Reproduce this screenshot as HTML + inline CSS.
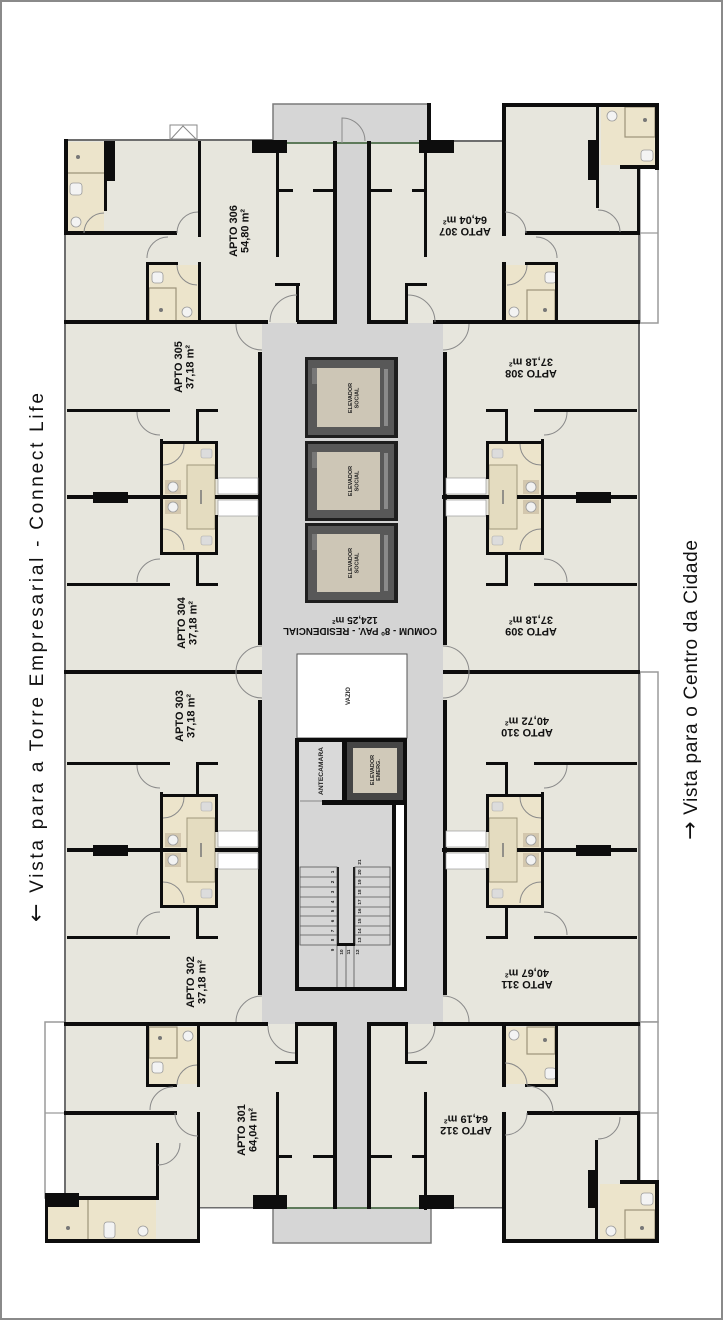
<!DOCTYPE html>
<html><head><meta charset="utf-8">
<style>
html,body{margin:0;padding:0;background:#fff;}
svg{display:block;}
text{font-family:"Liberation Sans",Arial,sans-serif;}
</style></head><body>
<svg width="723" height="1320" viewBox="0 0 723 1320" xmlns="http://www.w3.org/2000/svg">
<rect x="1" y="1" width="721" height="1318" fill="#fff" stroke="#8a8a8a" stroke-width="2"/>

<!-- balconies -->
<g fill="#fff" stroke="#9a9a9a" stroke-width="1.5">
<rect x="640" y="168" width="18" height="155"/>
<rect x="640" y="672" width="18" height="350"/>
<rect x="640" y="1022" width="18" height="160"/>
<rect x="45" y="1022" width="20" height="176"/>
</g>
<g stroke="#9a9a9a" stroke-width="1.2">
<line x1="640" y1="233" x2="658" y2="233"/>
<line x1="640" y1="1113" x2="658" y2="1113"/>
<line x1="45" y1="1113" x2="65" y2="1113"/>
</g>

<!-- floors -->
<g fill="#e7e6dd">
<rect x="65" y="141" width="270" height="182"/>
<rect x="369" y="141" width="271" height="182"/>
<rect x="503" y="105" width="155" height="63"/>
<rect x="65" y="323" width="197" height="699"/>
<rect x="443" y="323" width="195" height="699"/>
<rect x="65" y="1024" width="270" height="184"/>
<rect x="65" y="1198" width="135" height="45"/>
<rect x="369" y="1024" width="271" height="184"/>
<rect x="503" y="1182" width="155" height="60"/>
</g>
<!-- corridor -->
<g fill="#d4d4d4">
<rect x="262" y="323" width="181" height="701"/>
<rect x="337" y="141" width="30" height="183"/>
<rect x="337" y="1022" width="30" height="187"/>
</g>
<rect x="273" y="104" width="157" height="39" fill="#d6d6d6" stroke="#7a7a7a" stroke-width="1.5"/>
<rect x="273" y="1208" width="158" height="35" fill="#d6d6d6" stroke="#7a7a7a" stroke-width="1.5"/>

<!-- bathrooms fill -->
<g fill="#ece4cb">
<rect x="67" y="142" width="37" height="90"/>
<rect x="149" y="265" width="49" height="57"/>
<rect x="601" y="107" width="54" height="58"/>
<rect x="505" y="265" width="50" height="57"/>
<rect x="149" y="1027" width="48" height="57"/>
<rect x="48" y="1200" width="108" height="39"/>
<rect x="506" y="1027" width="49" height="57"/>
<rect x="600" y="1184" width="55" height="55"/>
</g>
<g fill="none" stroke="#9c937a" stroke-width="1.2">
<line x1="67" y1="173" x2="104" y2="173"/>
<rect x="149" y="288" width="27" height="34"/>
<rect x="625" y="107" width="30" height="30"/>
<rect x="527" y="290" width="28" height="32"/>
<rect x="149" y="1027" width="28" height="31"/>
<line x1="88" y1="1200" x2="88" y2="1239"/>
<rect x="527" y="1027" width="28" height="27"/>
<rect x="625" y="1210" width="30" height="29"/>
</g>
<!-- fixtures -->
<g fill="#f3f3f3" stroke="#9a9a9a" stroke-width=".8">
<circle cx="76" cy="222" r="5"/>
<circle cx="187" cy="312" r="5"/>
<circle cx="612" cy="116" r="5"/>
<circle cx="514" cy="312" r="5"/>
<circle cx="188" cy="1036" r="5"/>
<circle cx="143" cy="1231" r="5"/>
<circle cx="514" cy="1035" r="5"/>
<circle cx="611" cy="1231" r="5"/>
<rect x="70" y="183" width="12" height="12" rx="3"/>
<rect x="152" y="272" width="11" height="11" rx="3"/>
<rect x="641" y="150" width="12" height="11" rx="3"/>
<rect x="545" y="272" width="11" height="11" rx="3"/>
<rect x="152" y="1062" width="11" height="11" rx="3"/>
<rect x="104" y="1222" width="11" height="16" rx="3"/>
<rect x="545" y="1068" width="11" height="11" rx="3"/>
<rect x="641" y="1193" width="12" height="12" rx="3"/>
</g>
<g fill="#777">
<circle cx="78" cy="157" r="2"/><circle cx="161" cy="310" r="2"/><circle cx="645" cy="120" r="2"/>
<circle cx="545" cy="310" r="2"/><circle cx="160" cy="1038" r="2"/><circle cx="68" cy="1228" r="2"/>
<circle cx="545" cy="1040" r="2"/><circle cx="642" cy="1228" r="2"/>
</g>

<!-- outer thin lines -->
<g fill="#6e6e6e">
<rect x="64" y="139" width="209" height="2"/>
<rect x="64" y="233" width="2" height="965"/>
<rect x="638" y="233" width="2" height="880"/>
<rect x="454" y="140" width="48" height="2"/>
<rect x="200" y="1207" width="53" height="1.5"/>
<rect x="432" y="1207" width="70" height="1.5"/>
</g>
<g fill="#5e7a5a">
<rect x="287" y="142" width="132" height="2"/>
<rect x="287" y="1207" width="132" height="2"/>
</g>
<!-- window symbol top -->
<g fill="#fff" stroke="#888" stroke-width="1">
<rect x="170" y="125" width="27" height="14"/>
<path d="M171 139 L183 126 L196 139" fill="none"/>
</g>

<!-- ===== WALLS ===== -->
<g fill="#0d0d0d">
<rect x="64" y="139" width="4" height="96"/>
<rect x="64" y="231" width="113" height="4"/>
<rect x="104" y="141" width="11" height="40"/>
<rect x="104" y="141" width="3" height="70"/>
<rect x="198" y="141" width="3" height="96"/>
<rect x="198" y="262" width="3" height="60"/>
<rect x="146" y="262" width="32" height="3"/>
<rect x="146" y="262" width="3" height="60"/>
<rect x="252" y="140" width="35" height="13"/>
<rect x="276" y="145" width="3" height="112"/>
<rect x="277" y="189" width="16" height="3"/>
<rect x="313" y="189" width="22" height="3"/>
<rect x="275" y="283" width="25" height="3"/>
<rect x="296" y="283" width="3" height="39"/>
<rect x="333" y="141" width="4" height="183"/>
<rect x="427" y="103" width="4" height="40"/>
<rect x="367" y="141" width="4" height="183"/>
<rect x="419" y="140" width="35" height="13"/>
<rect x="424" y="150" width="3" height="107"/>
<rect x="369" y="189" width="23" height="3"/>
<rect x="412" y="189" width="15" height="3"/>
<rect x="405" y="283" width="22" height="3"/>
<rect x="405" y="283" width="3" height="39"/>
<rect x="502" y="103" width="4" height="133"/>
<rect x="502" y="262" width="4" height="61"/>
<rect x="502" y="103" width="157" height="4"/>
<rect x="655" y="103" width="4" height="67"/>
<rect x="620" y="165" width="39" height="4"/>
<rect x="596" y="107" width="3" height="101"/>
<rect x="588" y="140" width="10" height="40"/>
<rect x="637" y="165" width="3" height="70"/>
<rect x="525" y="231" width="115" height="4"/>
<rect x="525" y="262" width="33" height="3"/>
<rect x="555" y="262" width="3" height="60"/>
<rect x="64" y="320" width="204" height="4"/>
<rect x="297" y="320" width="40" height="4"/>
<rect x="367" y="320" width="41" height="4"/>
<rect x="433" y="320" width="207" height="4"/>
<rect x="64" y="670" width="198" height="4"/>
<rect x="443" y="670" width="197" height="4"/>
<rect x="64" y="1022" width="204" height="4"/>
<rect x="295" y="1022" width="42" height="4"/>
<rect x="367" y="1022" width="41" height="4"/>
<rect x="433" y="1022" width="207" height="4"/>
<rect x="258" y="352" width="4" height="293"/>
<rect x="258" y="700" width="4" height="295"/>
<rect x="443" y="352" width="4" height="293"/>
<rect x="443" y="700" width="4" height="295"/>
<rect x="146" y="1024" width="3" height="63"/>
<rect x="146" y="1084" width="31" height="3"/>
<rect x="197" y="1024" width="3" height="63"/>
<rect x="197" y="1112" width="3" height="131"/>
<rect x="64" y="1111" width="113" height="4"/>
<rect x="156" y="1143" width="3" height="57"/>
<rect x="45" y="1196" width="114" height="4"/>
<rect x="45" y="1193" width="34" height="14"/>
<rect x="45" y="1196" width="3" height="47"/>
<rect x="45" y="1239" width="155" height="4"/>
<rect x="276" y="1092" width="3" height="103"/>
<rect x="277" y="1155" width="15" height="3"/>
<rect x="313" y="1155" width="22" height="3"/>
<rect x="295" y="1024" width="3" height="40"/>
<rect x="275" y="1061" width="23" height="3"/>
<rect x="253" y="1195" width="34" height="14"/>
<rect x="333" y="1024" width="4" height="185"/>
<rect x="367" y="1024" width="4" height="185"/>
<rect x="405" y="1024" width="3" height="40"/>
<rect x="405" y="1061" width="22" height="3"/>
<rect x="424" y="1092" width="3" height="118"/>
<rect x="369" y="1155" width="23" height="3"/>
<rect x="412" y="1155" width="15" height="3"/>
<rect x="419" y="1195" width="35" height="14"/>
<rect x="502" y="1024" width="4" height="63"/>
<rect x="502" y="1112" width="4" height="131"/>
<rect x="525" y="1084" width="33" height="3"/>
<rect x="555" y="1024" width="3" height="63"/>
<rect x="527" y="1111" width="113" height="4"/>
<rect x="595" y="1140" width="3" height="100"/>
<rect x="588" y="1170" width="10" height="38"/>
<rect x="637" y="1113" width="3" height="70"/>
<rect x="620" y="1180" width="39" height="4"/>
<rect x="655" y="1180" width="4" height="63"/>
<rect x="502" y="1239" width="157" height="4"/>
</g>

<!-- ===== bath cores ===== -->
<g transform="translate(0,497)">
<rect x="163" y="-53" width="52" height="108" fill="#ece4cb"/>
<rect x="187" y="-32" width="28" height="64" fill="#e4dcc0" stroke="#a0977c" stroke-width="1"/>
<rect x="165" y="-17" width="16" height="14" fill="#d3c7ae"/>
<rect x="165" y="3" width="16" height="14" fill="#d3c7ae"/>
<circle cx="173" cy="-10" r="5" fill="#f2f2f2" stroke="#9a9a9a" stroke-width=".8"/>
<circle cx="173" cy="10" r="5" fill="#f2f2f2" stroke="#9a9a9a" stroke-width=".8"/>
<rect x="201" y="-48" width="11" height="9" rx="2" fill="#dcdcdc" stroke="#aaa" stroke-width=".6"/>
<rect x="201" y="39" width="11" height="9" rx="2" fill="#dcdcdc" stroke="#aaa" stroke-width=".6"/>
<path d="M201 -7 L201 7" stroke="#777" stroke-width="1.5"/>
<rect x="218" y="-19" width="40" height="16" fill="#fff" stroke="#9a9a9a" stroke-width=".7"/>
<rect x="218" y="3" width="40" height="16" fill="#fff" stroke="#9a9a9a" stroke-width=".7"/>
<g fill="#0d0d0d">
<rect x="67" y="-2" width="120" height="4"/>
<rect x="215" y="-2" width="47" height="4"/>
<rect x="93" y="-5" width="35" height="11"/>
<rect x="67" y="-88" width="103" height="3"/>
<rect x="196" y="-88" width="22" height="3"/>
<rect x="67" y="86" width="103" height="3"/>
<rect x="196" y="86" width="22" height="3"/>
<rect x="196" y="-88" width="3" height="33"/>
<rect x="196" y="56" width="3" height="33"/>
<rect x="160" y="-58" width="3" height="116"/>
<rect x="160" y="-56" width="58" height="3"/>
<rect x="160" y="55" width="58" height="3"/>
<rect x="215" y="-56" width="3" height="38"/>
<rect x="215" y="18" width="3" height="40"/>
</g>
<g fill="none" stroke="#8a8a8a" stroke-width="1">
<path d="M137 -85 A23 23 0 0 0 160 -62"/>
<path d="M137 85 A23 23 0 0 1 160 62"/>
<path d="M184 -53 A21 21 0 0 1 163 -32"/>
<path d="M184 53 A21 21 0 0 0 163 32"/>
</g>
</g>
<g transform="translate(0,850)">
<rect x="163" y="-53" width="52" height="108" fill="#ece4cb"/>
<rect x="187" y="-32" width="28" height="64" fill="#e4dcc0" stroke="#a0977c" stroke-width="1"/>
<rect x="165" y="-17" width="16" height="14" fill="#d3c7ae"/>
<rect x="165" y="3" width="16" height="14" fill="#d3c7ae"/>
<circle cx="173" cy="-10" r="5" fill="#f2f2f2" stroke="#9a9a9a" stroke-width=".8"/>
<circle cx="173" cy="10" r="5" fill="#f2f2f2" stroke="#9a9a9a" stroke-width=".8"/>
<rect x="201" y="-48" width="11" height="9" rx="2" fill="#dcdcdc" stroke="#aaa" stroke-width=".6"/>
<rect x="201" y="39" width="11" height="9" rx="2" fill="#dcdcdc" stroke="#aaa" stroke-width=".6"/>
<path d="M201 -7 L201 7" stroke="#777" stroke-width="1.5"/>
<rect x="218" y="-19" width="40" height="16" fill="#fff" stroke="#9a9a9a" stroke-width=".7"/>
<rect x="218" y="3" width="40" height="16" fill="#fff" stroke="#9a9a9a" stroke-width=".7"/>
<g fill="#0d0d0d">
<rect x="67" y="-2" width="120" height="4"/>
<rect x="215" y="-2" width="47" height="4"/>
<rect x="93" y="-5" width="35" height="11"/>
<rect x="67" y="-88" width="103" height="3"/>
<rect x="196" y="-88" width="22" height="3"/>
<rect x="67" y="86" width="103" height="3"/>
<rect x="196" y="86" width="22" height="3"/>
<rect x="196" y="-88" width="3" height="33"/>
<rect x="196" y="56" width="3" height="33"/>
<rect x="160" y="-58" width="3" height="116"/>
<rect x="160" y="-56" width="58" height="3"/>
<rect x="160" y="55" width="58" height="3"/>
<rect x="215" y="-56" width="3" height="38"/>
<rect x="215" y="18" width="3" height="40"/>
</g>
<g fill="none" stroke="#8a8a8a" stroke-width="1">
<path d="M137 -85 A23 23 0 0 0 160 -62"/>
<path d="M137 85 A23 23 0 0 1 160 62"/>
<path d="M184 -53 A21 21 0 0 1 163 -32"/>
<path d="M184 53 A21 21 0 0 0 163 32"/>
</g>
</g>
<g transform="matrix(-1,0,0,1,704,497)">
<rect x="163" y="-53" width="52" height="108" fill="#ece4cb"/>
<rect x="187" y="-32" width="28" height="64" fill="#e4dcc0" stroke="#a0977c" stroke-width="1"/>
<rect x="165" y="-17" width="16" height="14" fill="#d3c7ae"/>
<rect x="165" y="3" width="16" height="14" fill="#d3c7ae"/>
<circle cx="173" cy="-10" r="5" fill="#f2f2f2" stroke="#9a9a9a" stroke-width=".8"/>
<circle cx="173" cy="10" r="5" fill="#f2f2f2" stroke="#9a9a9a" stroke-width=".8"/>
<rect x="201" y="-48" width="11" height="9" rx="2" fill="#dcdcdc" stroke="#aaa" stroke-width=".6"/>
<rect x="201" y="39" width="11" height="9" rx="2" fill="#dcdcdc" stroke="#aaa" stroke-width=".6"/>
<path d="M201 -7 L201 7" stroke="#777" stroke-width="1.5"/>
<rect x="218" y="-19" width="40" height="16" fill="#fff" stroke="#9a9a9a" stroke-width=".7"/>
<rect x="218" y="3" width="40" height="16" fill="#fff" stroke="#9a9a9a" stroke-width=".7"/>
<g fill="#0d0d0d">
<rect x="67" y="-2" width="120" height="4"/>
<rect x="215" y="-2" width="47" height="4"/>
<rect x="93" y="-5" width="35" height="11"/>
<rect x="67" y="-88" width="103" height="3"/>
<rect x="196" y="-88" width="22" height="3"/>
<rect x="67" y="86" width="103" height="3"/>
<rect x="196" y="86" width="22" height="3"/>
<rect x="196" y="-88" width="3" height="33"/>
<rect x="196" y="56" width="3" height="33"/>
<rect x="160" y="-58" width="3" height="116"/>
<rect x="160" y="-56" width="58" height="3"/>
<rect x="160" y="55" width="58" height="3"/>
<rect x="215" y="-56" width="3" height="38"/>
<rect x="215" y="18" width="3" height="40"/>
</g>
<g fill="none" stroke="#8a8a8a" stroke-width="1">
<path d="M137 -85 A23 23 0 0 0 160 -62"/>
<path d="M137 85 A23 23 0 0 1 160 62"/>
<path d="M184 -53 A21 21 0 0 1 163 -32"/>
<path d="M184 53 A21 21 0 0 0 163 32"/>
</g>
</g>
<g transform="matrix(-1,0,0,1,704,850)">
<rect x="163" y="-53" width="52" height="108" fill="#ece4cb"/>
<rect x="187" y="-32" width="28" height="64" fill="#e4dcc0" stroke="#a0977c" stroke-width="1"/>
<rect x="165" y="-17" width="16" height="14" fill="#d3c7ae"/>
<rect x="165" y="3" width="16" height="14" fill="#d3c7ae"/>
<circle cx="173" cy="-10" r="5" fill="#f2f2f2" stroke="#9a9a9a" stroke-width=".8"/>
<circle cx="173" cy="10" r="5" fill="#f2f2f2" stroke="#9a9a9a" stroke-width=".8"/>
<rect x="201" y="-48" width="11" height="9" rx="2" fill="#dcdcdc" stroke="#aaa" stroke-width=".6"/>
<rect x="201" y="39" width="11" height="9" rx="2" fill="#dcdcdc" stroke="#aaa" stroke-width=".6"/>
<path d="M201 -7 L201 7" stroke="#777" stroke-width="1.5"/>
<rect x="218" y="-19" width="40" height="16" fill="#fff" stroke="#9a9a9a" stroke-width=".7"/>
<rect x="218" y="3" width="40" height="16" fill="#fff" stroke="#9a9a9a" stroke-width=".7"/>
<g fill="#0d0d0d">
<rect x="67" y="-2" width="120" height="4"/>
<rect x="215" y="-2" width="47" height="4"/>
<rect x="93" y="-5" width="35" height="11"/>
<rect x="67" y="-88" width="103" height="3"/>
<rect x="196" y="-88" width="22" height="3"/>
<rect x="67" y="86" width="103" height="3"/>
<rect x="196" y="86" width="22" height="3"/>
<rect x="196" y="-88" width="3" height="33"/>
<rect x="196" y="56" width="3" height="33"/>
<rect x="160" y="-58" width="3" height="116"/>
<rect x="160" y="-56" width="58" height="3"/>
<rect x="160" y="55" width="58" height="3"/>
<rect x="215" y="-56" width="3" height="38"/>
<rect x="215" y="18" width="3" height="40"/>
</g>
<g fill="none" stroke="#8a8a8a" stroke-width="1">
<path d="M137 -85 A23 23 0 0 0 160 -62"/>
<path d="M137 85 A23 23 0 0 1 160 62"/>
<path d="M184 -53 A21 21 0 0 1 163 -32"/>
<path d="M184 53 A21 21 0 0 0 163 32"/>
</g>
</g>

<!-- door arcs -->
<g fill="none" stroke="#8a8a8a" stroke-width="1">
<path d="M262 350 A26 26 0 0 1 236 324"/>
<path d="M262 646 A26 26 0 0 0 236 672"/>
<path d="M262 698 A26 26 0 0 1 236 672"/>
<path d="M262 996 A26 26 0 0 0 236 1022"/>
<path d="M443 350 A26 26 0 0 0 469 324"/>
<path d="M443 646 A26 26 0 0 1 469 672"/>
<path d="M443 698 A26 26 0 0 0 469 672"/>
<path d="M443 996 A26 26 0 0 1 469 1022"/>
<path d="M297 295 A27 27 0 0 0 270 322"/>
<path d="M408 295 A27 27 0 0 1 435 322"/>
<path d="M268 1026 A27 27 0 0 0 295 1053"/>
<path d="M435 1026 A27 27 0 0 1 408 1053"/>
<path d="M342 143 L342 118 A23 23 0 0 1 365 141"/>
<path d="M84 233 A20 20 0 0 1 104 213"/>
<path d="M177 233 A21 21 0 0 1 198 212"/>
<path d="M168 237 A21 21 0 0 0 147 258"/>
<path d="M177 265 A20 20 0 0 0 197 285"/>
<path d="M505 212 A21 21 0 0 1 526 233"/>
<path d="M536 237 A21 21 0 0 1 557 258"/>
<path d="M527 265 A20 20 0 0 1 507 285"/>
<path d="M598 210 A22 22 0 0 1 620 232"/>
<path d="M177 1085 A20 20 0 0 1 197 1065"/>
<path d="M150 1110 A23 23 0 0 1 173 1087"/>
<path d="M175 1113 A23 23 0 0 0 198 1136"/>
<path d="M180 1143 A22 22 0 0 1 158 1165"/>
<path d="M505 1063 A22 22 0 0 1 527 1085"/>
<path d="M553 1112 A26 26 0 0 0 527 1086"/>
<path d="M527 1113 A22 22 0 0 1 505 1135"/>
<path d="M620 1117 A22 22 0 0 1 598 1139"/>
</g>

<!-- elevators -->
<g>
<rect x="305" y="357" width="93" height="81" fill="#1e1e1e"/>
<rect x="308" y="360" width="86" height="75" fill="#585858"/>
<rect x="317" y="368" width="63" height="59" fill="#cdc6b6"/>
<rect x="384" y="369" width="4" height="57" fill="#8a8a8a"/>
<rect x="312" y="368" width="5" height="16" fill="#777"/>
<rect x="305" y="441" width="93" height="80" fill="#1e1e1e"/>
<rect x="308" y="444" width="86" height="74" fill="#585858"/>
<rect x="317" y="452" width="63" height="58" fill="#cdc6b6"/>
<rect x="384" y="453" width="4" height="56" fill="#8a8a8a"/>
<rect x="312" y="452" width="5" height="16" fill="#777"/>
<rect x="305" y="523" width="93" height="80" fill="#1e1e1e"/>
<rect x="308" y="526" width="86" height="74" fill="#585858"/>
<rect x="317" y="534" width="63" height="58" fill="#cdc6b6"/>
<rect x="384" y="535" width="4" height="56" fill="#8a8a8a"/>
<rect x="312" y="534" width="5" height="16" fill="#777"/>
</g>
<g font-size="5.5" font-weight="bold" fill="#222" text-anchor="middle">
<g transform="translate(354,398) rotate(-90)"><text x="0" y="-2">ELEVADOR</text><text x="0" y="4.5">SOCIAL</text></g>
<g transform="translate(354,481) rotate(-90)"><text x="0" y="-2">ELEVADOR</text><text x="0" y="4.5">SOCIAL</text></g>
<g transform="translate(354,563) rotate(-90)"><text x="0" y="-2">ELEVADOR</text><text x="0" y="4.5">SOCIAL</text></g>
</g>
<g transform="translate(360,626) rotate(180)" font-size="10" font-weight="bold" fill="#111" text-anchor="middle">
<text x="0" y="-2" textLength="154" lengthAdjust="spacingAndGlyphs">COMUM - 8º PAV. - RESIDENCIAL</text>
<text x="5" y="9">124,25 m²</text>
</g>

<!-- vazio + stair core -->
<rect x="297" y="654" width="110" height="84" fill="#fff" stroke="#555" stroke-width="1"/>
<text transform="translate(350,696) rotate(-90)" font-size="6" font-weight="bold" fill="#222" text-anchor="middle">VAZIO</text>
<rect x="297" y="740" width="108" height="249" fill="#d6d6d6" stroke="#0d0d0d" stroke-width="4"/>
<rect x="300" y="742" width="42" height="58" fill="#d9d9d9"/>
<rect x="342" y="740" width="5" height="62" fill="#0d0d0d"/>
<rect x="347" y="742" width="56" height="60" fill="#454545"/>
<rect x="353" y="748" width="44" height="45" fill="#d0c9b9"/>
<rect x="322" y="800" width="85" height="5" fill="#0d0d0d"/>
<line x1="300" y1="801" x2="322" y2="801" stroke="#888" stroke-width="1"/>
<rect x="392" y="803" width="4" height="186" fill="#0d0d0d"/>
<rect x="396" y="805" width="8" height="182" fill="#fff"/>
<g stroke="#555" stroke-width=".8" fill="none">
<rect x="300" y="867" width="37" height="78"/>
<rect x="355" y="867" width="35" height="78"/>
<line x1="300" y1="877" x2="337" y2="877"/><line x1="300" y1="887" x2="337" y2="887"/>
<line x1="300" y1="897" x2="337" y2="897"/><line x1="300" y1="907" x2="337" y2="907"/>
<line x1="300" y1="916" x2="337" y2="916"/><line x1="300" y1="926" x2="337" y2="926"/>
<line x1="300" y1="935" x2="337" y2="935"/>
<line x1="355" y1="877" x2="390" y2="877"/><line x1="355" y1="887" x2="390" y2="887"/>
<line x1="355" y1="897" x2="390" y2="897"/><line x1="355" y1="907" x2="390" y2="907"/>
<line x1="355" y1="916" x2="390" y2="916"/><line x1="355" y1="926" x2="390" y2="926"/>
<line x1="355" y1="935" x2="390" y2="935"/>
<line x1="337" y1="945" x2="337" y2="987"/><line x1="346" y1="945" x2="346" y2="987"/>
<line x1="354" y1="945" x2="354" y2="987"/>
</g>
<rect x="337" y="867" width="2" height="78" fill="#222"/>
<rect x="353" y="867" width="2" height="78" fill="#222"/>
<rect x="337" y="943" width="18" height="3" fill="#0d0d0d"/>
<g font-size="4.6" font-weight="bold" fill="#222" text-anchor="middle">
<text transform="translate(334,872) rotate(-90)">1</text>
<text transform="translate(334,882) rotate(-90)">2</text>
<text transform="translate(334,892) rotate(-90)">3</text>
<text transform="translate(334,902) rotate(-90)">4</text>
<text transform="translate(334,911) rotate(-90)">5</text>
<text transform="translate(334,921) rotate(-90)">6</text>
<text transform="translate(334,931) rotate(-90)">7</text>
<text transform="translate(334,940) rotate(-90)">8</text>
<text transform="translate(334,950) rotate(-90)">9</text>
<text transform="translate(343,952) rotate(-90)">10</text>
<text transform="translate(350,952) rotate(-90)">11</text>
<text transform="translate(359,952) rotate(-90)">12</text>
<text transform="translate(361,940) rotate(-90)">13</text>
<text transform="translate(361,931) rotate(-90)">14</text>
<text transform="translate(361,921) rotate(-90)">15</text>
<text transform="translate(361,911) rotate(-90)">16</text>
<text transform="translate(361,902) rotate(-90)">17</text>
<text transform="translate(361,892) rotate(-90)">18</text>
<text transform="translate(361,882) rotate(-90)">19</text>
<text transform="translate(361,872) rotate(-90)">20</text>
<text transform="translate(361,862) rotate(-90)">21</text>
</g>
<text transform="translate(323,771) rotate(-90)" font-size="6" font-weight="bold" fill="#222" text-anchor="middle" textLength="48" lengthAdjust="spacingAndGlyphs">ANTECAMARA</text>
<g transform="translate(376,770) rotate(-90)" font-size="5.5" font-weight="bold" fill="#222" text-anchor="middle">
<text x="0" y="-2">ELEVADOR</text><text x="0" y="4">EMERG.</text>
</g>

<!-- apartment labels -->
<g font-size="11" font-weight="bold" fill="#111" text-anchor="middle">
<g transform="translate(239,231) rotate(-90)"><text x="0" y="-2">APTO 306</text><text x="0" y="9.5">54,80 m²</text></g>
<g transform="translate(184,367) rotate(-90)"><text x="0" y="-2">APTO 305</text><text x="0" y="9.5">37,18 m²</text></g>
<g transform="translate(187,623) rotate(-90)"><text x="0" y="-2">APTO 304</text><text x="0" y="9.5">37,18 m²</text></g>
<g transform="translate(185,716) rotate(-90)"><text x="0" y="-2">APTO 303</text><text x="0" y="9.5">37,18 m²</text></g>
<g transform="translate(196,982) rotate(-90)"><text x="0" y="-2">APTO 302</text><text x="0" y="9.5">37,18 m²</text></g>
<g transform="translate(247,1130) rotate(-90)"><text x="0" y="-2">APTO 301</text><text x="0" y="9.5">64,04 m²</text></g>
<g transform="translate(465,226) rotate(180)"><text x="0" y="-2">APTO 307</text><text x="0" y="9.5">64,04 m²</text></g>
<g transform="translate(531,368) rotate(180)"><text x="0" y="-2">APTO 308</text><text x="0" y="9.5">37,18 m²</text></g>
<g transform="translate(531,626) rotate(180)"><text x="0" y="-2">APTO 309</text><text x="0" y="9.5">37,18 m²</text></g>
<g transform="translate(527,727) rotate(180)"><text x="0" y="-2">APTO 310</text><text x="0" y="9.5">40,72 m²</text></g>
<g transform="translate(527,979) rotate(180)"><text x="0" y="-2">APTO 311</text><text x="0" y="9.5">40,67 m²</text></g>
<g transform="translate(466,1125) rotate(180)"><text x="0" y="-2">APTO 312</text><text x="0" y="9.5">64,19 m²</text></g>
</g>

<!-- side captions -->
<text transform="translate(43,922) rotate(-90)" font-size="19" fill="#111" textLength="529" lengthAdjust="spacing"><tspan font-family="DejaVu Sans, sans-serif" font-size="22">←</tspan> Vista para a Torre Empresarial - Connect Life</text>
<text transform="translate(697,840) rotate(-90)" font-size="19" fill="#111" textLength="300" lengthAdjust="spacing"><tspan font-family="DejaVu Sans, sans-serif" font-size="22">→</tspan> Vista para o Centro da Cidade</text>
</svg>
</body></html>
